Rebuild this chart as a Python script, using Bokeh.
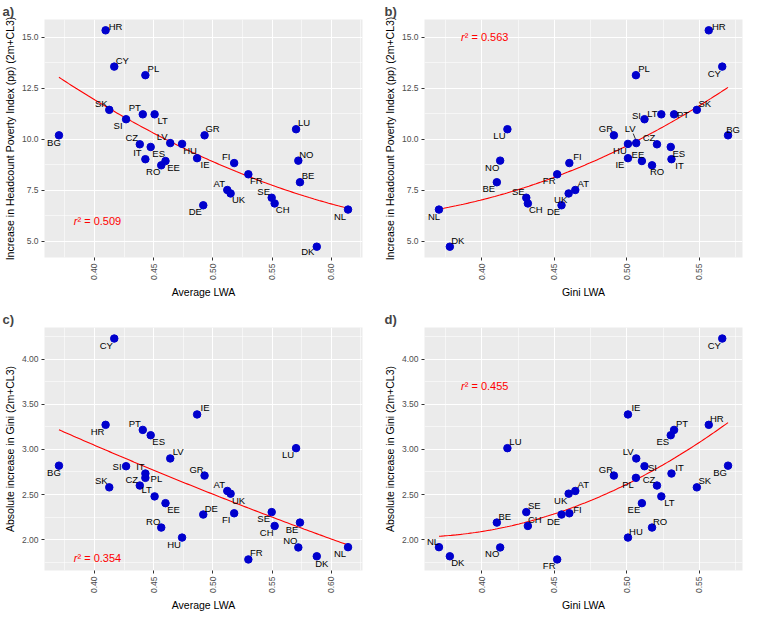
import numpy as np
from math import pi
from bokeh.plotting import figure
from bokeh.models import FixedTicker, PrintfTickFormatter, ColumnDataSource, Range1d
from bokeh.layouts import gridplot
from bokeh.core.properties import value
from bokeh.embed import file_html
from bokeh.resources import INLINE

# ---------------- data ----------------
countries = ["HR", "CY", "PL", "SK", "SI", "PT", "LT", "GR", "LU", "BG", "CZ", "ES", "IT", "LV", "HU",
             "EE", "RO", "IE", "FI", "FR", "NO", "BE", "AT", "UK", "SE", "CH", "DE", "NL", "DK"]
average_lwa = [0.4094, 0.4167, 0.4430, 0.4125, 0.4267, 0.4408, 0.4508, 0.4930, 0.5703, 0.3700, 0.4383,
               0.4475, 0.4430, 0.4640, 0.4740, 0.4600, 0.4564, 0.4867, 0.5180, 0.5300, 0.5722, 0.5736,
               0.5122, 0.5150, 0.5497, 0.5522, 0.4919, 0.6142, 0.5878]
gini_lwa = [0.5565, 0.5658, 0.5063, 0.5483, 0.5122, 0.5326, 0.5238, 0.4911, 0.4177, 0.5698, 0.5208,
            0.5303, 0.5308, 0.5065, 0.5008, 0.5104, 0.5174, 0.5008, 0.4604, 0.4520, 0.4127, 0.4104,
            0.4645, 0.4599, 0.4307, 0.4318, 0.4550, 0.3705, 0.3780]
poverty_increase = [15.35, 13.57, 13.15, 11.45, 10.99, 11.23, 11.23, 10.20, 10.50, 10.20, 9.76, 9.63,
                    9.03, 9.82, 9.78, 8.94, 8.73, 9.08, 8.84, 8.29, 8.96, 7.90, 7.52, 7.35, 7.14, 6.86,
                    6.77, 6.56, 4.74]
gini_increase = [3.272, 4.227, 2.685, 2.580, 2.814, 3.216, 2.480, 2.710, 3.014, 2.820, 2.600, 3.157,
                 2.733, 2.900, 2.024, 2.405, 2.135, 3.387, 2.293, 1.782, 1.915, 2.190, 2.540, 2.510,
                 2.306, 2.153, 2.279, 1.918, 1.817]
r2_labels = ["0.509", "0.563", "0.354", "0.455"]
r2_anchor = [(0.40, 6.0), (0.40, 15.0), (0.40, 1.80), (0.40, 3.70)]

xticks_avg = [0.40, 0.45, 0.50, 0.55, 0.60]
xminor_avg = [0.375, 0.425, 0.475, 0.525, 0.575, 0.625]
xticks_gini = [0.40, 0.45, 0.50, 0.55]
xminor_gini = [0.375, 0.425, 0.475, 0.525, 0.575]
yticks_pov = [5.0, 7.5, 10.0, 12.5, 15.0]
yminor_pov = [6.25, 8.75, 11.25, 13.75]
yticks_gini = [2.0, 2.5, 3.0, 3.5, 4.0]
yminor_gini = [1.75, 2.25, 2.75, 3.25, 3.75, 4.25]

# ---------------- label placement (pixels) ----------------
DIRS = {"ur": (8, -6.5), "ul": (-8, -6.5), "dr": (8, 6.5), "dl": (-8, 6.5)}
lab_a = {"HR": (10, -4), "CY": "ur", "PL": "ur", "SK": "ul", "SI": "dl", "PT": "ul", "LT": "dr", "GR": "ur",
         "LU": "ur", "BG": (-5, 7), "CZ": "ul", "ES": "dr", "IT": "ul", "LV": "ul", "HU": "dr", "EE": "dr",
         "RO": "dl", "IE": "dr", "FI": "ul", "FR": "dr", "NO": "ur", "BE": "ur", "AT": "ul", "UK": "dr",
         "SE": "ul", "CH": "dr", "DE": "dl", "NL": "dl", "DK": (-9, 5)}
lab_b = {"HR": (10, -4), "CY": "dl", "PL": "ur", "SK": "ur", "PT": (9, 0), "LT": (-9, -1), "SI": (-8, -4),
         "BG": (5, -6), "GR": "ul", "LU": "dl", "LV": (-6, -15), "HU": "dl", "CZ": "ul", "ES": "dr",
         "IE": "dl", "EE": (-4, -6.5), "RO": (5, 6.5), "IT": "dr", "FI": "ur", "NO": "dl", "FR": "dl",
         "BE": "dl", "SE": "ul", "CH": "dr", "AT": "ur", "UK": "dl", "DE": "dl", "NL": (-5, 7), "DK": "ur"}
lab_c = {"CY": "dl", "IE": "ur", "HR": "dl", "PT": "ul", "ES": "dr", "LU": "dl", "LV": "ur", "BG": (-5, 7),
         "SI": (-9, 0), "IT": (-5, -7), "PL": (11, 1), "GR": "ul", "CZ": "ul", "SK": "ul", "AT": "ul",
         "UK": "dr", "LT": "ul", "EE": "dr", "SE": "dl", "FI": "dl", "DE": "ur", "BE": "dl", "CH": "dl",
         "RO": "ul", "HU": "dl", "NO": "ul", "NL": "dl", "DK": (5, 7), "FR": "ur"}
lab_d = {"CY": "dl", "IE": "ur", "PT": "ur", "HR": "ur", "ES": "dl", "LU": "ur", "LV": "ul", "SI": (8, 1),
         "IT": "ur", "BG": "dl", "GR": "ul", "PL": "dl", "CZ": "ul", "SK": "ur", "AT": "ur", "UK": "dl",
         "LT": "dr", "EE": "dl", "SE": "ur", "FI": (8, -4), "DE": "dl", "BE": "ur", "CH": (7, -6),
         "RO": "ur", "HU": "ur", "NL": (-6, -6), "DK": "dr", "NO": "dl", "FR": "dl"}

FONT = "Liberation Sans"


def expand(vals):
    lo, hi = min(vals), max(vals)
    d = (hi - lo) * 0.05
    return lo - d, hi + d


def panel(tag, xs, ys, xlabel, ylabel, xt, xm, yt, ym, yfmt, labs, r2, anchor,
          width, height, bl, br, bt, bb, title_off, leader=None):
    x0, x1 = expand(xs)
    y0, y1 = expand(ys)
    p = figure(width=width, height=height, output_backend="svg", toolbar_location=None,
               x_range=Range1d(x0, x1), y_range=Range1d(y0, y1),
               min_border_left=bl, min_border_right=br, min_border_top=bt, min_border_bottom=bb)
    p.title.text = tag
    p.title.text_font = FONT
    p.title.text_font_size = "13px"
    p.title.text_font_style = "bold"
    p.title.align = "left"
    p.title.offset = title_off
    p.title.standoff = 2
    p.background_fill_color = "#EBEBEB"
    p.border_fill_color = "white"
    p.outline_line_color = None

    p.xaxis.ticker = FixedTicker(ticks=xt, minor_ticks=xm)
    p.yaxis.ticker = FixedTicker(ticks=yt, minor_ticks=ym)
    p.xaxis.formatter = PrintfTickFormatter(format="%.2f")
    p.yaxis.formatter = PrintfTickFormatter(format=yfmt)
    p.xaxis.major_label_orientation = pi / 2
    for ax in (p.xaxis, p.yaxis):
        ax.axis_line_color = None
        ax.major_tick_line_color = "#333333"
        ax.major_tick_in = 0
        ax.major_tick_out = 3
        ax.minor_tick_line_color = None
        ax.major_label_text_font = FONT
        ax.major_label_text_font_size = "8.5px"
        ax.major_label_text_color = "#4D4D4D"
        ax.major_label_standoff = 2
        ax.axis_label_text_font = FONT
        ax.axis_label_text_font_size = "10.5px"
        ax.axis_label_text_font_style = "normal"
        ax.axis_label_text_color = "black"
        ax.axis_label_standoff = 3
    p.xaxis.axis_label = xlabel
    p.yaxis.axis_label = ylabel

    for g in (p.xgrid, p.ygrid):
        g.grid_line_color = "white"
        g.grid_line_width = 1.1
        g.minor_grid_line_color = "white"
        g.minor_grid_line_width = 0.55

    # quadratic least-squares fit
    coef = np.polyfit(np.asarray(xs, float), np.asarray(ys, float), 2)
    fx = np.linspace(min(xs), max(xs), 120)
    fy = np.polyval(coef, fx)
    p.line(fx, fy, line_color="red", line_width=1.1)

    fw = width - bl - br
    fh = height - bt - bb
    if leader is not None:
        name, (ax0, ay0), (ax1, ay1) = leader
        i = countries.index(name)
        sx = (x1 - x0) / fw
        sy = (y1 - y0) / fh
        p.segment(x0=[xs[i] + ax0 * sx], y0=[ys[i] - ay0 * sy],
                  x1=[xs[i] + ax1 * sx], y1=[ys[i] - ay1 * sy], line_color="black", line_width=0.8)

    p.scatter(xs, ys, size=7.5, fill_color="#0000CD", line_color="#0000CD")

    dx, dy = [], []
    for c in countries:
        o = labs[c]
        if isinstance(o, str):
            o = DIRS[o]
        dx.append(o[0])
        dy.append(o[1])
    src = ColumnDataSource(dict(x=xs, y=ys, t=countries, dx=dx, dy=dy))
    p.text(x="x", y="y", text="t", x_offset="dx", y_offset="dy", source=src,
           text_align="center", text_baseline="middle", text_font=value(FONT),
           text_font_size=value("9.5px"), text_color="black")

    # r^2 annotation: italic r, then superscript and value
    p.text(x=[anchor[0]], y=[anchor[1]], text=["r"], text_align="right", x_offset=-17,
           text_baseline="middle", text_font=value(FONT), text_font_size=value("11px"),
           text_font_style="italic", text_color="red")
    p.text(x=[anchor[0]], y=[anchor[1]], text=["\u00b2 = " + r2], text_align="left", x_offset=-17,
           text_baseline="middle", text_font=value(FONT), text_font_size=value("11px"),
           text_color="red")
    return p


pa = panel("a)", average_lwa, poverty_increase, "Average LWA",
           "Increase in Headcount Poverty Index (pp) (2m+CL3)", xticks_avg, xminor_avg,
           yticks_pov, yminor_pov, "%.1f", lab_a, r2_labels[0], r2_anchor[0],
           372, 301, 42, 10, 14, 36, -42)
pb = panel("b)", gini_lwa, poverty_increase, "Gini LWA",
           "Increase in Headcount Poverty Index (pp) (2m+CL3)", xticks_gini, xminor_gini,
           yticks_pov, yminor_pov, "%.1f", lab_b, r2_labels[1], r2_anchor[1],
           372, 301, 52, 2, 14, 36, -40, leader=("LV", (-3, -10), (-0.5, -3.5)))
pc = panel("c)", average_lwa, gini_increase, "Average LWA",
           "Absolute increase in Gini (2m+CL3)", xticks_avg, xminor_avg,
           yticks_gini, yminor_gini, "%.2f", lab_c, r2_labels[2], r2_anchor[2],
           372, 313, 42, 10, 26, 36, -42)
pd_ = panel("d)", gini_lwa, gini_increase, "Gini LWA",
            "Absolute increase in Gini (2m+CL3)", xticks_gini, xminor_gini,
            yticks_gini, yminor_gini, "%.2f", lab_d, r2_labels[3], r2_anchor[3],
            372, 313, 52, 2, 26, 36, -40)

grid = gridplot([[pa, pb], [pc, pd_]], toolbar_location=None)
open("out.html", "w").write(file_html(grid, INLINE))
